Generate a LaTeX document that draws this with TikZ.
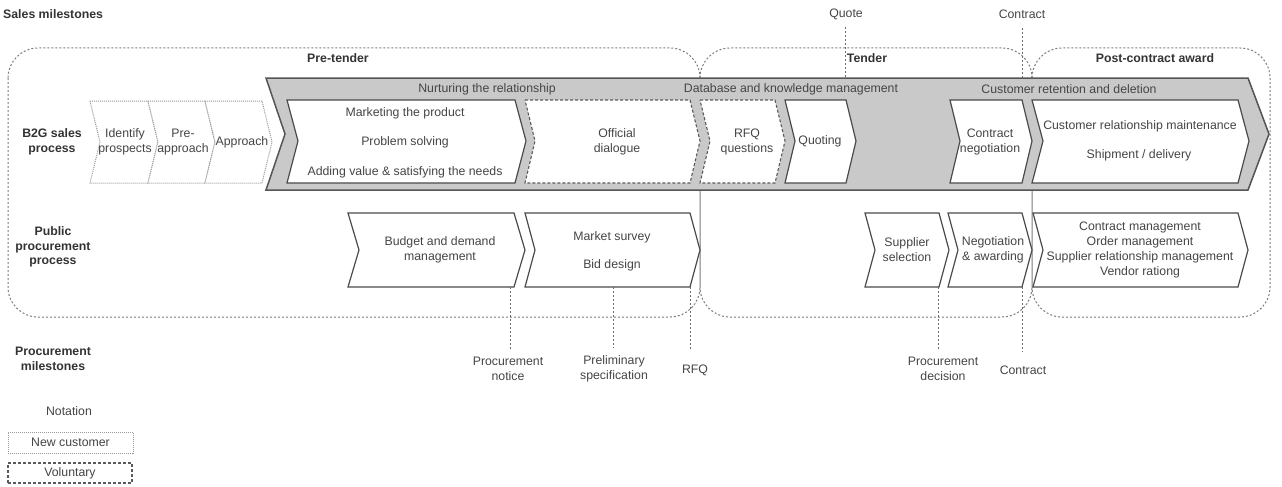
\documentclass[tikz,border=0pt]{standalone}
\usepackage{fontspec}
\setmainfont{Liberation Sans}
\definecolor{txtc}{HTML}{454545}
\definecolor{btxtc}{HTML}{333333}
\definecolor{boxc}{HTML}{7C7C7C}
\definecolor{barfill}{HTML}{C9C9C9}
\definecolor{barline}{HTML}{555555}
\definecolor{chevline}{HTML}{4A4A4A}
\definecolor{lightc}{HTML}{999999}
\definecolor{milec}{HTML}{6A6A6A}
\definecolor{volc}{HTML}{5A5A5A}
\newcommand\chevshape[7]{\draw[#1] (#2,#4) -- (#3,#4) -- ({#3+#7},#5) -- (#3,#6) -- (#2,#6) -- ({#2+#7},#5) -- cycle;}
\begin{document}
\begin{tikzpicture}[x=1pt,y=-1pt,
 txt/.style={text=txtc, font=\fontsize{12.3}{14.8}\selectfont, align=center, inner sep=0pt},
 btxt/.style={text=btxtc, font=\fontsize{12.3}{14.8}\selectfont\bfseries, align=center, inner sep=0pt},
 phase/.style={draw=boxc, dash pattern=on 2pt off 2pt, line width=1pt, rounded corners=30pt},
 bar/.style={draw=barline, fill=barfill, line width=1.5pt},
 chev/.style={draw=chevline, fill=white, line width=1.2pt},
 newcust/.style={draw=lightc, fill=white, dash pattern=on 1pt off 1pt, line width=1pt},
 volun/.style={draw=volc, fill=white, dash pattern=on 3pt off 2pt, line width=1.1pt},
 mile/.style={draw=milec, dash pattern=on 2pt off 2pt, line width=1pt}]
\useasboundingbox (0,0) rectangle (1282,487);
% phase boxes
\draw[phase] (8,48) rectangle (700,317);
\draw[phase] (700,48) rectangle (1032,317);
\draw[phase] (1032,48) rectangle (1270,317);
% gray bar
\draw[bar] (266,78) -- (1248,78) -- (1269,134) -- (1248,190) -- (266,190) -- (285,134) -- cycle;
% sales row, new customer
\chevshape{newcust}{90}{148}{101}{142}{183}{10}
\chevshape{newcust}{148}{205}{101}{142}{183}{10}
\chevshape{newcust}{205}{262}{101}{142}{183}{10}
% sales row, in bar
\chevshape{chev}{287}{515}{100}{141}{183}{11}
\chevshape{volun}{525}{690}{100}{141}{183}{10}
\chevshape{volun}{700}{775}{100}{141}{183}{10}
\chevshape{chev}{785}{846}{100}{141}{183}{10}
\chevshape{chev}{950}{1022}{100}{141}{183}{10}
\chevshape{chev}{1032}{1238}{100}{141}{183}{11}
% procurement row
\chevshape{chev}{348}{514}{213}{250}{287}{11}
\chevshape{chev}{525}{690}{213}{250}{287}{10}
\chevshape{chev}{865}{939}{213}{250}{287}{10}
\chevshape{chev}{948}{1022}{213}{250}{287}{10}
\chevshape{chev}{1033}{1238}{213}{250}{287}{10}
% texts
\node[btxt, anchor=west] (sm) at (3,14) {Sales milestones};
\node[btxt] (pretender) at (338,58) {Pre-tender};
\node[btxt] (tender) at (867,58) {Tender};
\node[btxt] (post) at (1155,58) {Post-contract award};
\node[txt] (quote) at (846,14) {Quote};
\node[txt] (contract1) at (1022,14) {Contract};
\node[txt] (nur) at (487,89) {Nurturing the relationship};
\node[txt] (db) at (791,89) {Database and knowledge management};
\node[txt] (crd) at (1069,89) {Customer retention and deletion};
\node[btxt] (b2g) at (52,142) {B2G sales\\process};
\node[txt] (idp) at (125,142) {Identify\\prospects};
\node[txt] (prea) at (183,142) {Pre-\\approach};
\node[txt] (appr) at (242,142) {Approach};
\node[txt] (mkt1) at (405,113) {Marketing the product};
\node[txt] (mkt2) at (405,142) {Problem solving};
\node[txt] (mkt3) at (405,172) {Adding value \& satisfying the needs};
\node[txt] (offd) at (617,142) {Official\\dialogue};
\node[txt] (rfqq) at (747,142) {RFQ\\questions};
\node[txt] (quot) at (820,141) {Quoting};
\node[txt] (cneg) at (990,142) {Contract\\negotiation};
\node[txt] (crm) at (1140,126) {Customer relationship maintenance};
\node[txt] (ship) at (1139,155) {Shipment / delivery};
\node[btxt] (ppp) at (53,247) {Public\\procurement\\process};
\node[txt] (bdm) at (440,250) {Budget and demand\\management};
\node[txt] (ms) at (612,237) {Market survey};
\node[txt] (bd) at (612,265) {Bid design};
\node[txt] (ss) at (907,250) {Supplier\\selection};
\node[txt] (na) at (993,250) {Negotiation\\\& awarding};
\node[txt] (cm) at (1140,250) {Contract management\\Order management\\Supplier relationship management\\Vendor rationg};
\node[btxt] (pm) at (53,359) {Procurement\\milestones};
\node[txt] (pn) at (508,369) {Procurement\\notice};
\node[txt] (ps) at (614,369) {Preliminary\\specification};
\node[txt] (rfq) at (695,370) {RFQ};
\node[txt] (pd) at (943,369) {Procurement\\decision};
\node[txt] (contract2) at (1023,370) {Contract};
\node[txt] (notation) at (69,411) {Notation};
\node[txt, newcust, minimum width=125pt, minimum height=21pt] (nc) at (70.5,442.5) {New customer};
\node[txt, volun, minimum width=124pt, minimum height=20pt] (vol) at (70,473) {Voluntary};
% milestones
\coordinate (qb) at (845,78);
\coordinate (cb) at (1022,78);
\draw[mile] (845,27) coordinate (qt) -- (qb);
\draw[mile] (1022,28) coordinate (ct) -- (cb);
\coordinate (m1) at (510,287);
\coordinate (m2) at (613,287);
\coordinate (m3) at (690,287);
\coordinate (m4) at (938,287);
\coordinate (m5) at (1022,287);
\draw[mile] (m1) -- ([yshift=8pt]pn.north -| m1);
\draw[mile] (m2) -- ([yshift=8pt]ps.north -| m2);
\draw[mile] (m3) -- ([yshift=14pt]rfq.north -| m3);
\draw[mile] (m4) -- ([yshift=8pt]pd.north -| m4);
\draw[mile] (m5) -- ([yshift=14pt]contract2.north -| m5);
\end{tikzpicture}
\end{document}
